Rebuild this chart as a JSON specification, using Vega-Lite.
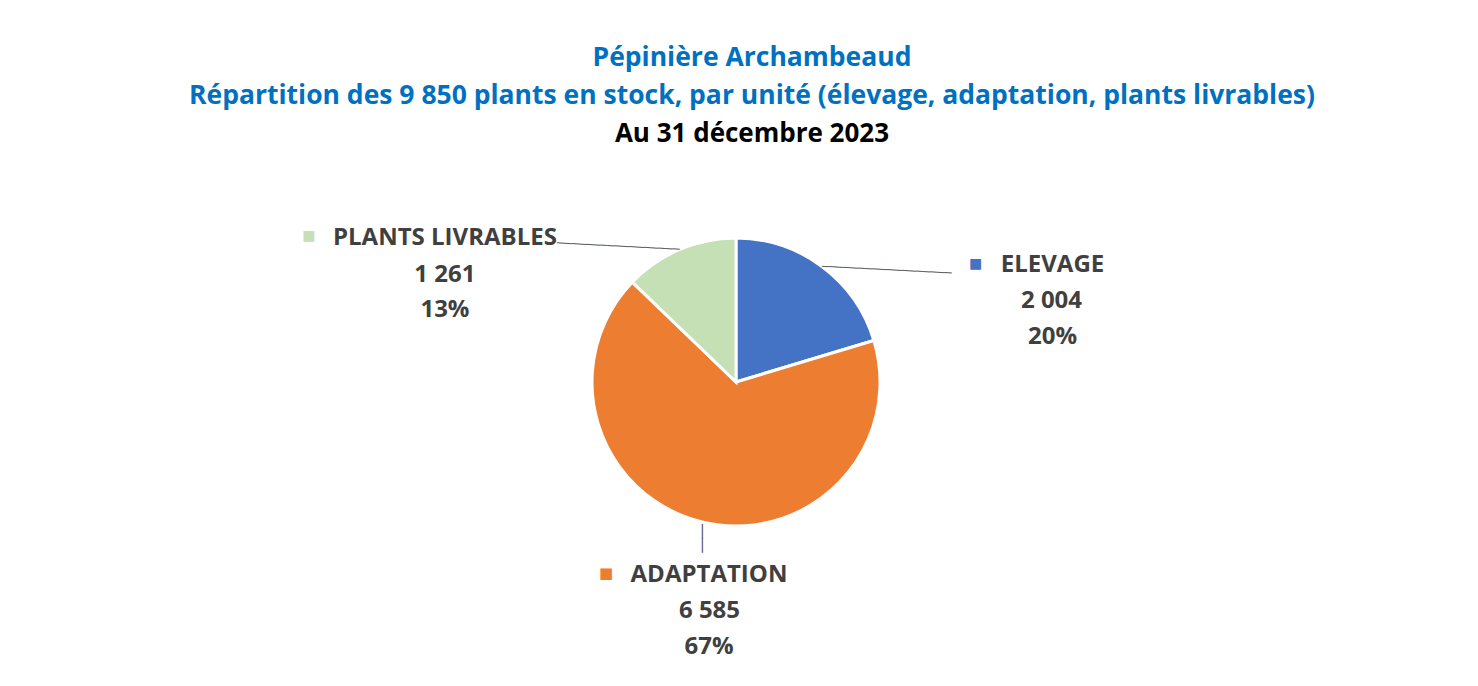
{
  "$schema": "https://vega.github.io/schema/vega-lite/v6.json",
  "autosize": "none",
  "width": 1472,
  "height": 364,
  "padding": {"left": 0, "top": 200, "right": 6, "bottom": 122},
  "background": "#ffffff",
  "config": {
    "view": {"stroke": null},
    "locale": {"number": {"decimal": ",", "thousands": " ", "grouping": [3], "currency": ["", " €"]}}
  },
  "title": {
    "text": ["Pépinière Archambeaud", "Répartition des 9 850 plants en stock, par unité (élevage, adaptation, plants livrables)"],
    "subtitle": "Au 31 décembre 2023",
    "font": "Open Sans", "fontSize": 26.5, "fontWeight": "bold", "color": "#0070C0", "lineHeight": 38,
    "subtitleFont": "Open Sans", "subtitleFontSize": 26, "subtitleFontWeight": "bold", "subtitleColor": "#000000",
    "subtitlePadding": 12, "subtitleLineHeight": 38,
    "anchor": "middle", "dx": 16, "offset": 53
  },
  "data": {"values": [
    {"cat": "ELEVAGE", "value": 2004, "pct": 0.20, "ord": 1},
    {"cat": "ADAPTATION", "value": 6585, "pct": 0.67, "ord": 2},
    {"cat": "PLANTS LIVRABLES", "value": 1261, "pct": 0.13, "ord": 3}
  ]},
  "encoding": {
    "theta": {"field": "value", "type": "quantitative", "stack": true},
    "order": {"field": "ord", "type": "quantitative"},
    "color": {"field": "cat", "type": "nominal", "legend": null,
      "scale": {"domain": ["ELEVAGE", "ADAPTATION", "PLANTS LIVRABLES"], "range": ["#4472C4", "#ED7D31", "#C5E0B4"]}}
  },
  "layer": [
    {"mark": {"type": "arc", "outerRadius": 144, "stroke": "#ffffff", "strokeWidth": 3}},

    {"mark": {"type": "text", "radius": 144, "font": "DejaVu Sans", "fontSize": 12, "align": "left", "baseline": "middle", "angle": 3, "text": "──────────────────"},
     "encoding": {"color": {"value": "#606060"}, "opacity": {"condition": {"test": "datum.cat === 'ELEVAGE'", "value": 1}, "value": 0}}},
    {"mark": {"type": "text", "radius": 144, "font": "DejaVu Sans", "fontSize": 12, "align": "right", "baseline": "middle", "angle": 3, "text": "─────────────────"},
     "encoding": {"color": {"value": "#606060"}, "opacity": {"condition": {"test": "datum.cat === 'PLANTS LIVRABLES'", "value": 1}, "value": 0}}},
    {"mark": {"type": "text", "radius": 146, "font": "DejaVu Sans", "fontSize": 12, "align": "left", "baseline": "middle", "angle": 90, "text": "────"},
     "encoding": {"color": {"value": "#404040"}, "opacity": {"condition": {"test": "datum.cat === 'ADAPTATION'", "value": 1}, "value": 0}}},

    {"mark": {"type": "text", "radius": 144, "font": "DejaVu Sans", "fontSize": 14, "align": "center", "baseline": "middle", "dx": 153.6, "dy": -2.9},
     "encoding": {"text": {"condition": {"test": "datum.cat === 'ELEVAGE'", "value": "■"}, "value": ""}}},
    {"mark": {"type": "text", "radius": 144, "font": "DejaVu Sans", "fontSize": 15, "align": "center", "baseline": "middle", "dx": -96.2, "dy": 51},
     "encoding": {"text": {"condition": {"test": "datum.cat === 'ADAPTATION'", "value": "■"}, "value": ""}}},
    {"mark": {"type": "text", "radius": 144, "font": "DejaVu Sans", "fontSize": 14, "align": "center", "baseline": "middle", "dx": -370.7, "dy": -13.5},
     "encoding": {"text": {"condition": {"test": "datum.cat === 'PLANTS LIVRABLES'", "value": "■"}, "value": ""}}},

    {"mark": {"type": "text", "radius": 144, "font": "Open Sans", "fontSize": 24, "fontWeight": "bold", "align": "center", "baseline": "alphabetic", "dx": 230.6, "dy": 5.9},
     "encoding": {"color": {"value": "#404040"}, "text": {"condition": {"test": "datum.cat === 'ELEVAGE'", "field": "cat", "type": "nominal"}, "value": ""}}},
    {"mark": {"type": "text", "radius": 144, "font": "Open Sans", "fontSize": 24, "fontWeight": "bold", "align": "center", "baseline": "alphabetic", "dx": 229.6, "dy": 41.9},
     "encoding": {"color": {"value": "#404040"}, "text": {"condition": {"test": "datum.cat === 'ELEVAGE'", "field": "value", "type": "quantitative", "format": ",d"}, "value": ""}}},
    {"mark": {"type": "text", "radius": 144, "font": "Open Sans", "fontSize": 24, "fontWeight": "bold", "align": "center", "baseline": "alphabetic", "dx": 230.6, "dy": 77.6},
     "encoding": {"color": {"value": "#404040"}, "text": {"condition": {"test": "datum.cat === 'ELEVAGE'", "field": "pct", "type": "quantitative", "format": ".0%"}, "value": ""}}},

    {"mark": {"type": "text", "radius": 144, "font": "Open Sans", "fontSize": 24, "fontWeight": "bold", "align": "center", "baseline": "alphabetic", "dx": 6.8, "dy": 60},
     "encoding": {"color": {"value": "#404040"}, "text": {"condition": {"test": "datum.cat === 'ADAPTATION'", "field": "cat", "type": "nominal"}, "value": ""}}},
    {"mark": {"type": "text", "radius": 144, "font": "Open Sans", "fontSize": 24, "fontWeight": "bold", "align": "center", "baseline": "alphabetic", "dx": 7.3, "dy": 96},
     "encoding": {"color": {"value": "#404040"}, "text": {"condition": {"test": "datum.cat === 'ADAPTATION'", "field": "value", "type": "quantitative", "format": ",d"}, "value": ""}}},
    {"mark": {"type": "text", "radius": 144, "font": "Open Sans", "fontSize": 24, "fontWeight": "bold", "align": "center", "baseline": "alphabetic", "dx": 6.8, "dy": 132},
     "encoding": {"color": {"value": "#404040"}, "text": {"condition": {"test": "datum.cat === 'ADAPTATION'", "field": "pct", "type": "quantitative", "format": ".0%"}, "value": ""}}},

    {"mark": {"type": "text", "radius": 144, "font": "Open Sans", "fontSize": 24, "fontWeight": "bold", "align": "center", "baseline": "alphabetic", "dx": -234.7, "dy": -4.5},
     "encoding": {"color": {"value": "#404040"}, "text": {"condition": {"test": "datum.cat === 'PLANTS LIVRABLES'", "field": "cat", "type": "nominal"}, "value": ""}}},
    {"mark": {"type": "text", "radius": 144, "font": "Open Sans", "fontSize": 24, "fontWeight": "bold", "align": "center", "baseline": "alphabetic", "dx": -234.7, "dy": 32.2},
     "encoding": {"color": {"value": "#404040"}, "text": {"condition": {"test": "datum.cat === 'PLANTS LIVRABLES'", "field": "value", "type": "quantitative", "format": ",d"}, "value": ""}}},
    {"mark": {"type": "text", "radius": 144, "font": "Open Sans", "fontSize": 24, "fontWeight": "bold", "align": "center", "baseline": "alphabetic", "dx": -234.7, "dy": 67.5},
     "encoding": {"color": {"value": "#404040"}, "text": {"condition": {"test": "datum.cat === 'PLANTS LIVRABLES'", "field": "pct", "type": "quantitative", "format": ".0%"}, "value": ""}}}
  ]
}
